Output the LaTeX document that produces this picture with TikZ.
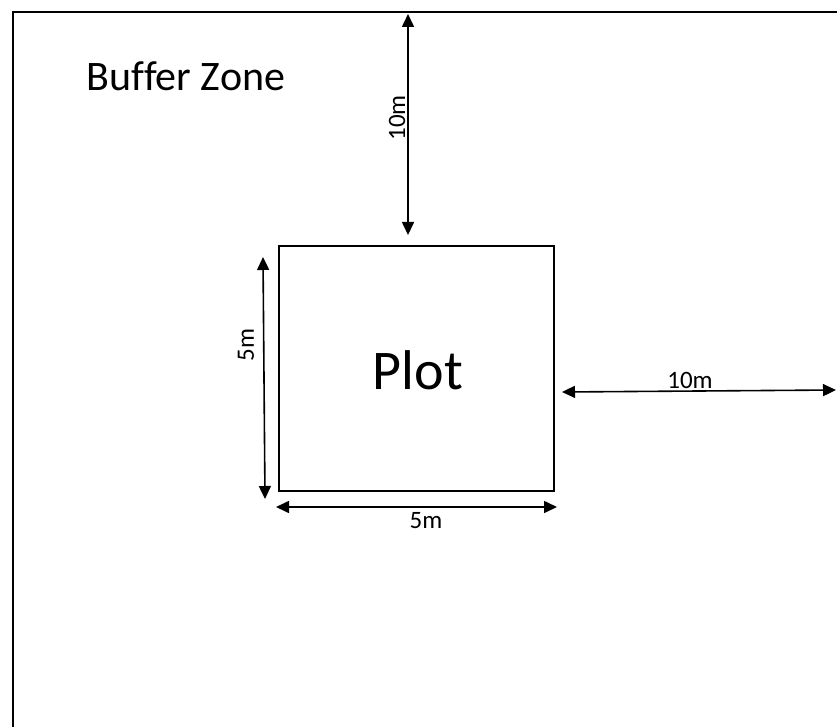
\documentclass[tikz,border=0pt]{standalone}
\usepackage{fontspec}
\setmainfont[Ligatures=CommonOff]{Carlito}
\usetikzlibrary{arrows.meta}
\begin{document}
\begin{tikzpicture}[x=1pt,y=-1pt,
  dim/.style={line width=1.6pt,{Triangle[length=13pt,width=12pt]}-{Triangle[length=13pt,width=12pt]}},
  dimlabel/.style={inner sep=0pt,font=\fontsize{25}{29}\selectfont},
  border/.style={line width=2pt}]
\useasboundingbox (0,0) rectangle (837,727);
% outer buffer zone edges (right and bottom lie outside the view)
\coordinate (bzBL) at (12.5,727);
\coordinate (bzTL) at (12.5,12.5);
\coordinate (bzTR) at (837,12.5);
\draw[border] (bzBL) -- (bzTL) -- (bzTR);
\node[inner sep=0pt,font=\fontsize{42}{46}\selectfont] (buffer) at (186,76) {Buffer Zone};
% plot
\node[draw,line width=2pt,minimum width=275pt,minimum height=245pt,inner sep=0pt] (plot) at (416.5,368.5) {};
\node[inner sep=0pt,font=\fontsize{56}{60}\selectfont] (plotlabel) at (418,370) {Plot};
% top dimension
\coordinate (t1) at (408,14);
\coordinate (t2) at (408,235);
\draw[dim] (t1) -- (t2);
\node[dimlabel,rotate=90] (l10a) at (397,118) {10m};
% left dimension
\coordinate (s1) at (263,257);
\coordinate (s2) at (265,499);
\draw[dim] (s1) -- (s2);
\node[dimlabel,rotate=90] (l5a) at (246,345) {5m};
% bottom dimension
\coordinate (b1) at (276,507);
\coordinate (b2) at (557,507);
\draw[dim] (b1) -- (b2);
\node[dimlabel] (l5b) at (426,521) {5m};
% right dimension
\coordinate (r1) at (562,392);
\coordinate (r2) at (836,390);
\draw[dim] (r1) -- (r2);
\node[dimlabel] (l10b) at (690,380) {10m};
\end{tikzpicture}
\end{document}
